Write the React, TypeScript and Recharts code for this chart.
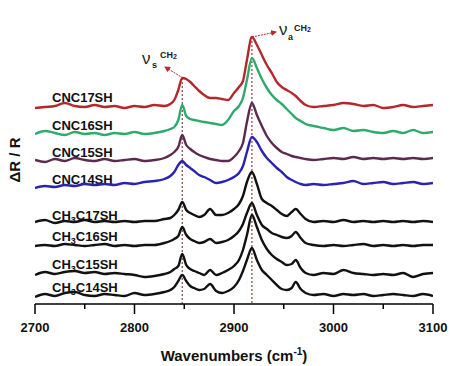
import { Line, LineChart, ReferenceLine, XAxis, YAxis } from 'recharts';

const FONT = "Arial, 'Liberation Sans', sans-serif";

const wavenumbers = [
  2700, 2710, 2720, 2730, 2740, 2750, 2760, 2770, 2780, 2790, 2800, 2810, 2820, 2830,
  2836, 2840, 2844, 2848, 2852, 2856, 2860, 2865, 2870, 2876,
  2882, 2888, 2894, 2900, 2905, 2909, 2913, 2918, 2923, 2928,
  2933, 2938, 2943, 2948, 2953, 2958, 2962, 2967, 2972,
  2980, 2990, 3000, 3010, 3020, 3030, 3040, 3050, 3060, 3070, 3080, 3090, 3100,
];

// stacked spectra, arbitrary offset units
const cnc17 = [
  196, 197, 198, 201, 198, 197, 199, 197, 198, 196, 198, 197, 199, 198,
  200, 204, 214, 226, 225, 222, 218, 213, 209, 206,
  206, 205, 204, 211, 217, 223, 244, 267, 259, 249,
  239, 231, 222, 217, 214, 211, 208, 203, 199,
  197, 198, 199, 201, 200, 198, 199, 196, 197, 199, 197, 198, 199,
];
const cnc16 = [
  170, 173, 171, 169, 172, 170, 171, 169, 171, 170, 172, 170, 171, 173,
  175, 177, 184, 199, 188, 185, 184, 183, 182, 181,
  180, 179, 184, 193, 198, 206, 224, 246, 236, 225,
  216, 209, 204, 200, 195, 190, 186, 183, 180,
  178, 176, 174, 176, 173, 174, 172, 171, 173, 171, 174, 171, 172,
];
const cnc15 = [
  144, 142, 145, 143, 146, 144, 143, 145, 143, 144, 145, 143, 144, 146,
  149, 152, 157, 169, 159, 155, 152, 149, 147, 145,
  144, 143, 143, 147, 153, 161, 182, 201, 189, 178,
  168, 161, 156, 152, 150, 148, 147, 146, 145,
  144, 145, 146, 145, 147, 145, 146, 145, 146, 145, 146, 145, 146,
];
const cnc14 = [
  116, 118, 117, 119, 118, 120, 119, 120, 119, 121, 120, 122, 123, 125,
  128, 132, 139, 143, 139, 136, 133, 129, 127, 124,
  121, 122, 124, 127, 131, 138, 152, 167, 162, 153,
  146, 141, 136, 132, 127, 124, 122, 120, 119,
  120, 119, 120, 121, 123, 120, 121, 122, 120, 121, 122, 120, 121,
];
const ch3c17 = [
  82, 84, 81, 83, 82, 84, 82, 83, 82, 83, 82, 83, 83, 85,
  86, 89, 94, 102, 94, 91, 89, 87, 89, 95,
  89, 89, 91, 95, 100, 108, 122, 132, 120, 105,
  101, 98, 94, 90, 88, 92, 95, 90, 85,
  82, 83, 82, 84, 82, 83, 82, 83, 82, 83, 82, 83, 82,
];
const ch3c16 = [
  58, 59, 58, 60, 59, 58, 59, 60, 58, 59, 58, 59, 59, 61,
  63, 65, 68, 77, 69, 65, 63, 61, 62, 65,
  61, 62, 64, 68, 73, 80, 91, 101, 89, 79,
  75, 71, 69, 67, 66, 68, 72, 66, 61,
  59, 58, 59, 58, 59, 60, 58, 59, 58, 59, 58, 59, 59,
];
const ch3c15 = [
  29, 32, 30, 32, 33, 31, 32, 30, 31, 30, 29, 27, 28, 30,
  32, 35, 38, 50, 39, 35, 33, 31, 29, 34,
  29, 31, 34, 38, 44, 54, 69, 89, 77, 64,
  55, 49, 45, 42, 39, 40, 44, 36, 31,
  29, 31, 30, 34, 31, 30, 29, 30, 29, 31, 27, 30, 31,
];
const ch3c14 = [
  7, 10, 8, 11, 12, 9, 8, 10, 9, 8, 11, 9, 10, 12,
  14, 17, 23, 29, 23, 18, 16, 14, 15, 20,
  13, 11, 13, 17, 24, 33, 44, 56, 44, 34,
  29, 24, 19, 15, 14, 16, 22, 15, 11,
  9, 10, 8, 10, 9, 10, 8, 9, 10, 9, 8, 10, 8,
];

const xTicks = [2700, 2750, 2800, 2850, 2900, 2950, 3000, 3050, 3100];
const peakS = 2848;
const peakA = 2918;

const series = [
  { key: 'cnc17', values: cnc17, color: '#b3272d' },
  { key: 'cnc16', values: cnc16, color: '#2eab6c' },
  { key: 'cnc15', values: cnc15, color: '#5c2a4e' },
  { key: 'cnc14', values: cnc14, color: '#2a22b2' },
  { key: 'ch3c17', values: ch3c17, color: '#111111' },
  { key: 'ch3c16', values: ch3c16, color: '#111111' },
  { key: 'ch3c15', values: ch3c15, color: '#111111' },
  { key: 'ch3c14', values: ch3c14, color: '#111111' },
];

const labels = [
  { name: 'CNC17SH', y: 102 },
  { name: 'CNC16SH', y: 130 },
  { name: 'CNC15SH', y: 157 },
  { name: 'CNC14SH', y: 184 },
  { name: 'CH3C17SH', y: 220 },
  { name: 'CH3C16SH', y: 241 },
  { name: 'CH3C15SH', y: 269 },
  { name: 'CH3C14SH', y: 292 },
];

const data = wavenumbers.map((w, i) => {
  const row: Record<string, number> = { w };
  series.forEach((s) => {
    row[s.key] = s.values[i];
  });
  return row;
});

const XTick = (props: any) => {
  const { x, y, payload } = props;
  const major = payload.value % 100 === 0;
  return (
    <g>
      <line x1={x} x2={x} y1={y} y2={y + (major ? 10 : 5)} stroke='#000' strokeWidth={1.5} />
      {major && (
        <text x={x} y={y + 28} textAnchor='middle' fontFamily={FONT} fontWeight='bold' fontSize={13} fill='#111'>
          {payload.value}
        </text>
      )}
    </g>
  );
};

const XLabel = () => (
  <text x={234} y={361} textAnchor='middle' fontFamily={FONT} fontWeight='bold' fontSize={15} fill='#111'>
    Wavenumbers (cm<tspan dy={-6} fontSize={10}>-1</tspan><tspan dy={6}>)</tspan>
  </text>
);

const YLabel = () => (
  <text x={20} y={160} transform='rotate(-90 20 160)' textAnchor='middle' fontFamily={FONT} fontWeight='bold' fontSize={15} fill='#111'>
    ΔR / R
  </text>
);

const CurveLabel = ({ name, y }: { name: string; y: number }) => {
  if (name.startsWith('CH3')) {
    return (
      <text x={52} y={y} fontFamily={FONT} fontWeight='bold' fontSize={13} fill='#111'>
        CH<tspan dy={3} fontSize={9}>3</tspan><tspan dy={-3}>{name.slice(3)}</tspan>
      </text>
    );
  }
  return (
    <text x={52} y={y} fontFamily={FONT} fontWeight='bold' fontSize={13} fill='#111'>
      {name}
    </text>
  );
};

const Annotations = () => (
  <g>
    <defs>
      <marker id='arrowRed' markerWidth={6} markerHeight={6} refX={5} refY={3} orient='auto'>
        <path d='M0,0 L6,3 L0,6 z' fill='#b3272d' />
      </marker>
    </defs>
    <line x1={183} y1={78} x2={165} y2={67} stroke='#b3272d' strokeWidth={1} strokeDasharray='2 1' markerEnd='url(#arrowRed)' />
    <line x1={252} y1={37} x2={276} y2={32} stroke='#b3272d' strokeWidth={1} strokeDasharray='2 1' markerEnd='url(#arrowRed)' />
    <text x={142} y={64} fontFamily={FONT} fontSize={17} fill='#222'>ν</text>
    <text x={152} y={68} fontFamily={FONT} fontWeight='bold' fontSize={9} fill='#222'>s</text>
    <text x={160} y={58} fontFamily={FONT} fontWeight='bold' fontSize={9} fill='#222'>
      CH<tspan dy={1} fontSize={7}>2</tspan>
    </text>
    <text x={279} y={35} fontFamily={FONT} fontSize={17} fill='#222'>ν</text>
    <text x={288} y={40} fontFamily={FONT} fontWeight='bold' fontSize={9} fill='#222'>a</text>
    <text x={294} y={31} fontFamily={FONT} fontWeight='bold' fontSize={9} fill='#222'>
      CH<tspan dy={1} fontSize={7}>2</tspan>
    </text>
  </g>
);

export default function App() {
  return (
    <div style={{ position: 'absolute', left: 0, top: 0, background: '#fff' }}>
      <LineChart width={450} height={366} data={data} margin={{ top: 10, right: 17, left: 35, bottom: 0 }}>
        <XAxis
          dataKey='w'
          type='number'
          domain={[2700, 3100]}
          ticks={xTicks}
          interval={0}
          tickSize={0}
          tickMargin={0}
          tick={<XTick />}
          height={62}
          stroke='#000'
          strokeWidth={1.5}
          allowDataOverflow
        />
        <XAxis xAxisId='top' orientation='top' type='number' domain={[2700, 3100]} tick={false} tickLine={false} height={0} stroke='#000' strokeWidth={1.5} />
        <YAxis type='number' domain={[0, 294]} tick={false} tickLine={false} width={0} stroke='#000' strokeWidth={1.5} />
        <YAxis yAxisId='right' orientation='right' type='number' domain={[0, 294]} tick={false} tickLine={false} width={0} stroke='#000' strokeWidth={1.5} />
        <ReferenceLine segment={[{ x: peakS, y: 226 }, { x: peakS, y: 0 }]} stroke='#8b4436' strokeWidth={1.2} strokeDasharray='2 2' />
        <ReferenceLine segment={[{ x: peakA, y: 267 }, { x: peakA, y: 0 }]} stroke='#8b4436' strokeWidth={1.2} strokeDasharray='2 2' />
        {series.map((s) => (
          <Line key={s.key} type='monotone' dataKey={s.key} stroke={s.color} strokeWidth={2.4} dot={false} isAnimationActive={false} />
        ))}
        {labels.map((l) => (
          <CurveLabel key={l.name} name={l.name} y={l.y} />
        ))}
        <Annotations />
        <XLabel />
        <YLabel />
      </LineChart>
    </div>
  );
}
